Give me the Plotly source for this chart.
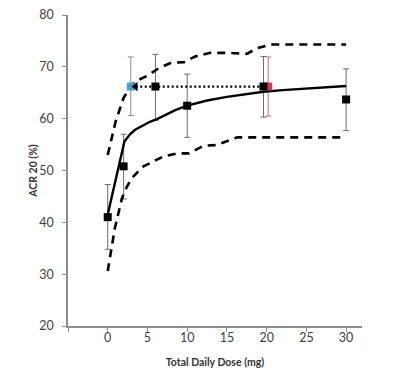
import plotly.graph_objects as go

# Observed data (black squares)
dose = [0, 2, 6, 10, 19.6, 30]
acr = [41.0, 50.8, 66.2, 62.5, 66.2, 63.7]
acr_hi = [47.3, 57.0, 72.4, 68.6, 72.0, 69.6]
acr_lo = [34.8, 44.5, 59.7, 56.4, 60.3, 57.7]

# Highlighted points
cyan_x = [2.9]
cyan_y = [66.2]
cyan_hi = [71.9]
cyan_lo = [60.6]
red_x = [20.2]
red_y = [66.2]
red_hi = [71.9]
red_lo = [60.5]

# Model curve (solid)
model_x = [0, 0.7, 1.4, 2.1, 2.4, 2.8, 3.4, 4.3, 5.3, 6.2, 7.2, 8.5, 10, 12.5, 15, 17.5, 19.6, 22, 25, 27.5, 30]
model_y = [41.5, 46.2, 50.9, 55.6, 56.2, 57.0, 57.8, 58.6, 59.4, 59.9, 60.7, 61.65, 62.5, 63.5, 64.2, 64.8, 65.2, 65.5, 65.8, 66.05, 66.3]

# Upper confidence band (dashed)
upper_x = [0, 1.0, 2.0, 2.8, 3.5, 5.0, 6.5, 8.0, 9.6, 11.0, 12.9, 15.0, 17.5, 18.8, 20.5, 25, 30]
upper_y = [53.0, 59.5, 64.0, 66.0, 67.2, 68.3, 69.8, 70.8, 70.9, 72.0, 72.7, 72.7, 72.5, 73.6, 74.3, 74.3, 74.3]

# Lower confidence band (dashed)
lower_x = [0, 0.9, 1.8, 2.4, 3.0, 4.5, 7.0, 8.7, 10.2, 12.1, 13.7, 15.4, 16.3, 20, 25, 30]
lower_y = [30.6, 38.9, 44.7, 46.8, 48.5, 50.8, 52.7, 53.3, 53.3, 54.8, 54.9, 55.9, 56.4, 56.4, 56.4, 56.4]

# Dotted arrow from red point back to cyan point
arrow_x = [20.2, 3.5]
arrow_y = [66.2, 66.2]

x_tickvals = [-5, 0, 5, 10, 15, 20, 25, 30]
x_ticktext = ["", "0", "5", "10", "15", "20", "25", "30"]
y_tickvals = [20, 30, 40, 50, 60, 70, 80]

fig = go.Figure()

# Error bars
def err_trace(x, y, hi, lo, color):
    return go.Scatter(
        x=x, y=y, mode="markers",
        marker=dict(size=1, color="rgba(0,0,0,0)"),
        error_y=dict(type="data", symmetric=False,
                     array=[h - v for h, v in zip(hi, y)],
                     arrayminus=[v - l for v, l in zip(y, lo)],
                     color=color, thickness=1, width=3),
        showlegend=False, hoverinfo="skip")

fig.add_trace(err_trace(dose, acr, acr_hi, acr_lo, "#6b6b6b"))
fig.add_trace(err_trace(cyan_x, cyan_y, cyan_hi, cyan_lo, "#8a8a8a"))
fig.add_trace(err_trace(red_x, red_y, red_hi, red_lo, "#c9707a"))

fig.add_trace(go.Scatter(x=upper_x, y=upper_y, mode="lines",
                         line=dict(color="black", width=2.6, dash="8px,6px"),
                         showlegend=False))
fig.add_trace(go.Scatter(x=lower_x, y=lower_y, mode="lines",
                         line=dict(color="black", width=2.6, dash="8px,6px"),
                         showlegend=False))
fig.add_trace(go.Scatter(x=model_x, y=model_y, mode="lines",
                         line=dict(color="black", width=2.4),
                         showlegend=False))

fig.add_trace(go.Scatter(x=arrow_x, y=arrow_y, mode="lines",
                         line=dict(color="black", width=2.2, dash="2px,2.5px"),
                         showlegend=False))

fig.add_trace(go.Scatter(x=cyan_x, y=cyan_y, mode="markers",
                         marker=dict(symbol="square", size=8, color="#4f9fcb"),
                         showlegend=False))
fig.add_trace(go.Scatter(x=red_x, y=red_y, mode="markers",
                         marker=dict(symbol="square", size=8, color="#d23a4a"),
                         showlegend=False))
fig.add_trace(go.Scatter(x=dose, y=acr, mode="markers",
                         marker=dict(symbol="square", size=8, color="black"),
                         showlegend=False))
fig.add_trace(go.Scatter(x=[arrow_x[-1]], y=[arrow_y[-1]], mode="markers",
                         marker=dict(symbol="triangle-left", size=8, color="black"),
                         showlegend=False))

axis_font = dict(family="Lato, 'Open Sans', sans-serif", size=12.5, color="#404040")
title_font = dict(family="Lato, 'Open Sans', sans-serif", size=10.5, color="#333333")
# The page body adds an 8px margin, so the figure is sized and padded to compensate.
fig.update_layout(
    width=391, height=360,
    margin=dict(l=60, r=37, t=7, b=42),
    paper_bgcolor="white", plot_bgcolor="white",
    xaxis=dict(range=[-5, 32], tickvals=x_tickvals, ticktext=x_ticktext,
               automargin=False, ticklabeloverflow="allow",
               showgrid=False, zeroline=False, showline=True,
               linecolor="#8c8c8c", linewidth=1.5,
               ticks="outside", ticklen=4, tickcolor="#8c8c8c",
               ticklabelstandoff=-5,
               tickfont=axis_font,
               title=dict(text="<b>Total Daily Dose (mg)</b>",
                          font=title_font, standoff=15)),
    yaxis=dict(range=[20, 80], tickvals=y_tickvals,
               automargin=False, ticklabeloverflow="allow",
               showgrid=False, zeroline=False, showline=True,
               linecolor="#8c8c8c", linewidth=1.5,
               ticks="outside", ticklen=4, tickcolor="#8c8c8c",
               ticklabelstandoff=6,
               tickfont=axis_font,
               title=dict(text="<b>ACR 20 (%)</b>",
                          font=title_font, standoff=0)),
)

fig.write_html("out.html")
